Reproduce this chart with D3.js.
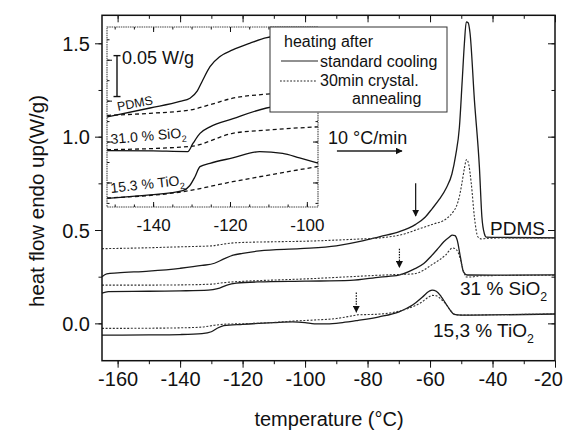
<!DOCTYPE html>
<html>
<head>
<meta charset="utf-8">
<script src="https://cdn.jsdelivr.net/npm/d3@7"></script>
<style>
  body { margin: 0; background: #fff; }
  svg text { font-family: "Liberation Sans", Arial, sans-serif; fill: #111; }
  .axis path, .axis line { stroke: #111; }
  .axis text { font-size: 20px; }
</style>
</head>
<body>
<svg id="chart" width="570" height="430"></svg>
<script>
// main plot curves: [temperature (°C), heat flow (W/g)]
var pdmsStd = [[-165,0.25],[-163.5,0.265],[-160,0.27],[-150,0.28],[-140,0.295],[-133,0.31],[-129,0.322],[-126,0.345],[-123,0.365],[-120,0.375],[-114.6,0.388],[-101.6,0.40],[-90,0.415],[-82,0.44],[-76,0.465],[-70,0.49],[-64.6,0.53],[-61.5,0.57],[-59.3,0.615],[-57,0.665],[-54.8,0.725],[-53,0.80],[-51.8,0.90],[-50.6,1.05],[-49.7,1.30],[-49,1.50],[-48.4,1.615],[-47.8,1.61],[-47.2,1.555],[-45.8,1.197],[-44.2,0.837],[-43.4,0.57],[-42.6,0.48],[-42,0.462],[-35,0.46],[-20,0.458]];
var pdmsAnn = [[-165,0.40],[-150,0.405],[-140,0.41],[-130,0.415],[-126,0.425],[-122,0.432],[-110,0.437],[-100,0.44],[-85,0.45],[-76,0.458],[-68,0.48],[-64.6,0.50],[-59.3,0.53],[-54.8,0.56],[-52.5,0.60],[-51.6,0.625],[-50.6,0.68],[-49.8,0.75],[-49,0.83],[-48.3,0.878],[-47.6,0.85],[-46.8,0.75],[-45.8,0.57],[-44.7,0.464],[-43.5,0.452],[-42,0.455],[-35,0.458],[-20,0.458]];
var sio2Std = [[-165,0.162],[-163,0.17],[-150,0.172],[-140,0.174],[-131,0.178],[-128,0.186],[-125,0.205],[-122,0.215],[-115,0.222],[-100,0.226],[-85.5,0.23],[-76,0.248],[-70,0.258],[-65.3,0.289],[-62,0.32],[-59.8,0.357],[-57.5,0.40],[-55.6,0.437],[-53.8,0.462],[-52.9,0.473],[-52,0.47],[-51.3,0.446],[-50.3,0.357],[-49.3,0.276],[-48.1,0.259],[-40,0.258],[-20,0.26]];
var sio2Ann = [[-165,0.205],[-150,0.205],[-140,0.206],[-130,0.21],[-126,0.218],[-120,0.225],[-110,0.232],[-100,0.238],[-85.5,0.25],[-76,0.258],[-70,0.262],[-65.3,0.265],[-62,0.285],[-59.8,0.31],[-57,0.34],[-55,0.366],[-52.8,0.404],[-52,0.40],[-51,0.38],[-50.1,0.33],[-49.2,0.275],[-48.3,0.248],[-47,0.248],[-44,0.255],[-20,0.258]];
var tio2Std = [[-165,-0.063],[-150,-0.062],[-140,-0.06],[-133,-0.055],[-130,-0.045],[-128,-0.025],[-126,-0.012],[-120,-0.005],[-110,0.004],[-104,0.008],[-100,0.004],[-97,-0.003],[-93,-0.003],[-88,0.004],[-83,0.016],[-76.3,0.035],[-69.9,0.062],[-65.6,0.098],[-62.5,0.14],[-60.3,0.172],[-59.3,0.178],[-58,0.172],[-56.5,0.145],[-55,0.107],[-53.5,0.07],[-52.3,0.048],[-50,0.044],[-40,0.045],[-20,0.05]];
var tio2Ann = [[-165,-0.027],[-150,-0.026],[-140,-0.024],[-133,-0.02],[-129,-0.01],[-126,-0.005],[-120,-0.002],[-110,0.005],[-104,0.012],[-97,0.018],[-90,0.026],[-85,0.04],[-83,0.046],[-78,0.048],[-72,0.058],[-67,0.08],[-63,0.11],[-60.5,0.14],[-59.3,0.15],[-58,0.148],[-56.5,0.13],[-55,0.105],[-53.5,0.07],[-52.3,0.05],[-50,0.044],[-40,0.046],[-20,0.05]];

// inset (glass transition zoom), W/g with arbitrary offset
var inPdmsStd = [[-152,0.080],[-140.8,0.091],[-133,0.099],[-130.4,0.103],[-128.5,0.112],[-127.1,0.125],[-125.2,0.1415],[-122.6,0.154],[-119.3,0.162],[-114.9,0.170],[-110.4,0.177],[-104.5,0.180],[-97,0.183]];
var inPdmsAnn = [[-152,0.082],[-140.8,0.0845],[-130.4,0.0886],[-125.2,0.095],[-119.3,0.103],[-110.4,0.108],[-97,0.113]];
var inSio2Std = [[-152,0.039],[-140,0.0385],[-131,0.0378],[-129.6,0.048],[-127.8,0.060],[-125.2,0.068],[-119.2,0.078],[-110.5,0.091],[-97,0.098]];
var inSio2Ann = [[-152,0.040],[-130.4,0.044],[-119.3,0.060],[-110.4,0.064],[-97,0.068]];
var inTio2Std = [[-152,-0.0194],[-140.8,-0.0153],[-132.3,-0.0101],[-130.5,-0.004],[-129.1,0.007],[-127.8,0.0193],[-125.2,0.0234],[-119.3,0.030],[-112.3,0.0376],[-106.3,0.0356],[-101.9,0.030],[-97.1,0.0235]];
var inTio2Ann = [[-152,-0.019],[-132.3,-0.0113],[-119.3,0.0009],[-97.1,0.0195]];

// onset arrows: temperature, from, to (W/g)
var arrows = [
  { t: -64.6, from: 0.75, to: 0.575, dotted: false },
  { t: -69.8, from: 0.40, to: 0.30, dotted: true },
  { t: -83.6, from: 0.165, to: 0.06, dotted: true }
];

var xTicks = [-160, -140, -120, -100, -80, -60, -40, -20];
var yTicks = [0.0, 0.5, 1.0, 1.5];
var inXTicks = [-140, -120, -100];

var svg = d3.select('#chart');

var x = d3.scaleLinear().domain([-165, -20]).range([102, 555]);
var y = d3.scaleLinear().domain([-0.2, 1.65]).range([360.7, 15.3]);

// plain hyphen for negatives, like the original
var intFmt = function(d) { return String(d); };

function minor(scale, step) {
  var d = scale.domain(), out = [];
  for (var v = Math.ceil(d3.min(d) / step) * step; v <= d3.max(d) + 1e-9; v += step) out.push(+v.toFixed(4));
  return out;
}

// minor ticks first, then major
function axisMinor(gen, scale, step, size, tr) {
  svg.append('g').attr('class', 'axis').attr('transform', tr)
    .call(gen(scale).tickValues(minor(scale, step)).tickSize(size / 2).tickFormat(''))
    .call(function(g) { g.select('.domain').remove(); });
}

axisMinor(d3.axisBottom, x, 10, 7, 'translate(0,360.7)');
axisMinor(d3.axisTop, x, 10, -7, 'translate(0,15.3)');
axisMinor(d3.axisLeft, y, 0.25, 7, 'translate(102,0)');
axisMinor(d3.axisRight, y, 0.25, -7, 'translate(555,0)');

svg.append('g').attr('class', 'axis').attr('transform', 'translate(0,360.7)')
  .call(d3.axisBottom(x).tickValues(xTicks).tickSize(7).tickPadding(4).tickFormat(intFmt))
  .call(function(g) {
    g.select('.domain').remove();
    g.selectAll('text').filter(function(d) { return d === -20; }).attr('dx', -7);
  });
svg.append('g').attr('class', 'axis').attr('transform', 'translate(0,15.3)')
  .call(d3.axisTop(x).tickValues(xTicks).tickSize(-7).tickFormat(''))
  .call(function(g) { g.select('.domain').remove(); });
svg.append('g').attr('class', 'axis').attr('transform', 'translate(102,0)')
  .call(d3.axisLeft(y).tickValues(yTicks).tickSize(7).tickPadding(5).tickFormat(d3.format('.1f')))
  .call(function(g) { g.select('.domain').remove(); g.selectAll('text').attr('dy', '0.36em'); });
svg.append('g').attr('class', 'axis').attr('transform', 'translate(555,0)')
  .call(d3.axisRight(y).tickValues(yTicks).tickSize(-7).tickFormat(''))
  .call(function(g) { g.select('.domain').remove(); });

svg.selectAll('.axis text').style('font-family', '"Liberation Sans", Arial, sans-serif').attr('fill', '#111');

var line = d3.line().x(function(d) { return x(d[0]); }).y(function(d) { return y(d[1]); }).curve(d3.curveMonotoneX);

[[pdmsStd, false], [pdmsAnn, true], [sio2Std, false], [sio2Ann, true], [tio2Std, false], [tio2Ann, true]].forEach(function(s) {
  svg.append('path').datum(s[0]).attr('d', line)
    .attr('fill', 'none')
    .attr('stroke', s[1] ? '#333' : '#1a1a1a')
    .attr('stroke-width', s[1] ? 1.1 : 1.3)
    .attr('stroke-dasharray', s[1] ? '2,1.6' : null);
});

// arrowheads
var defs = svg.append('defs');
defs.append('marker').attr('id', 'head').attr('viewBox', '0 0 10 10')
  .attr('refX', 9).attr('refY', 5).attr('markerWidth', 7).attr('markerHeight', 7)
  .attr('markerUnits', 'userSpaceOnUse').attr('orient', 'auto')
  .append('path').attr('d', 'M0,0 L10,5 L0,10 z').attr('fill', '#111');

arrows.forEach(function(a) {
  svg.append('line')
    .attr('x1', x(a.t)).attr('x2', x(a.t))
    .attr('y1', y(a.from)).attr('y2', y(a.to))
    .attr('stroke', '#111').attr('stroke-width', 1.2)
    .attr('stroke-dasharray', a.dotted ? '1.5,1.2' : null)
    .attr('marker-end', 'url(#head)');
});

// frame
svg.append('rect').attr('x', 102).attr('y', 15.3).attr('width', 453).attr('height', 345.4)
  .attr('fill', 'none').attr('stroke', '#111').attr('stroke-width', 1.5);

// sample labels
function subLabel(g, px, py, size, main, sub, rot) {
  var t = g.append('text').attr('x', px).attr('y', py).style('font-size', size + 'px');
  if (rot) t.attr('transform', 'rotate(' + rot + ',' + px + ',' + py + ')');
  t.append('tspan').text(main);
  if (sub) t.append('tspan').attr('dy', size * 0.3).style('font-size', (size * 0.65) + 'px').text(sub);
  return t;
}
subLabel(svg, 490, 235, 19, 'PDMS');
subLabel(svg, 460, 295, 19, '31 % SiO', '2');
subLabel(svg, 433, 337, 19, '15,3 % TiO', '2');

// heating rate
svg.append('text').attr('x', 328).attr('y', 144).style('font-size', '18px').text('10 °C/min');
svg.append('line').attr('x1', x(-89.8)).attr('x2', x(-69)).attr('y1', y(0.923)).attr('y2', y(0.923))
  .attr('stroke', '#222').attr('stroke-width', 1.6).attr('marker-end', 'url(#head)');

// axis titles
svg.append('text').attr('x', 329).attr('y', 426).attr('text-anchor', 'middle').style('font-size', '20px')
  .text('temperature (°C)');
svg.append('text').attr('transform', 'translate(44,201) rotate(-90)').attr('text-anchor', 'middle')
  .style('font-size', '20.5px').text('heat flow endo up(W/g)');

// ---- inset
var ix = d3.scaleLinear().domain([-152, -97.1]).range([107, 318]);
var iy = d3.scaleLinear().domain([-0.03, 0.19]).range([207, 27]);
var inset = svg.append('g');
inset.append('rect').attr('x', 107).attr('y', 27).attr('width', 211).attr('height', 180).attr('fill', '#fff');

defs.append('clipPath').attr('id', 'inclip').append('rect')
  .attr('x', 107).attr('y', 27).attr('width', 211).attr('height', 180);

var iline = d3.line().x(function(d) { return ix(d[0]); }).y(function(d) { return iy(d[1]); }).curve(d3.curveMonotoneX);
var ic = inset.append('g').attr('clip-path', 'url(#inclip)');
[[inPdmsStd, false], [inPdmsAnn, true], [inSio2Std, false], [inSio2Ann, true], [inTio2Std, false], [inTio2Ann, true]].forEach(function(s) {
  ic.append('path').datum(s[0]).attr('d', iline)
    .attr('fill', 'none').attr('stroke', '#111')
    .attr('stroke-width', 1.3)
    .attr('stroke-dasharray', s[1] ? '4,3' : null);
});

function inAxis(gen, scale, vals, size, tr, fmt) {
  inset.append('g').attr('class', 'axis').attr('transform', tr)
    .call(gen(scale).tickValues(vals).tickSize(size).tickPadding(6).tickFormat(fmt || ''))
    .call(function(g) { g.select('.domain').remove(); g.selectAll('line').attr('stroke', '#444'); });
}
inAxis(d3.axisBottom, ix, minor(ix, 5), -2.5, 'translate(0,207)');
inAxis(d3.axisBottom, ix, inXTicks, -5, 'translate(0,207)', intFmt);
inAxis(d3.axisTop, ix, minor(ix, 5), -2.5, 'translate(0,27)');
inAxis(d3.axisTop, ix, inXTicks, -5, 'translate(0,27)');
inAxis(d3.axisLeft, iy, minor(iy, 0.025), -2.5, 'translate(107,0)');
inAxis(d3.axisLeft, iy, [0, 0.05, 0.1, 0.15], -5, 'translate(107,0)');
inAxis(d3.axisRight, iy, minor(iy, 0.025), -2.5, 'translate(318,0)');
inAxis(d3.axisRight, iy, [0, 0.05, 0.1, 0.15], -5, 'translate(318,0)');
inset.selectAll('.axis text').style('font-size', '17px').attr('dy', '1.05em')
  .style('font-family', '"Liberation Sans", Arial, sans-serif').attr('fill', '#111');

inset.append('rect').attr('x', 107).attr('y', 27).attr('width', 211).attr('height', 180)
  .attr('fill', 'none').attr('stroke', '#444').attr('stroke-width', 1.1).attr('stroke-dasharray', '1.5,0.8');

// scale bar 0.05 W/g
var sb = inset.append('g').attr('stroke', '#111').attr('stroke-width', 1.4);
sb.append('line').attr('x1', 117).attr('x2', 117).attr('y1', iy(0.155)).attr('y2', iy(0.105));
sb.append('line').attr('x1', 113.5).attr('x2', 120.5).attr('y1', iy(0.155)).attr('y2', iy(0.155));
sb.append('line').attr('x1', 113.5).attr('x2', 120.5).attr('y1', iy(0.105)).attr('y2', iy(0.105));
inset.append('text').attr('x', 122).attr('y', 64).style('font-size', '18px').text('0.05 W/g');

subLabel(inset, 118, 111, 12.5, 'PDMS', null, -11);
subLabel(inset, 111, 144, 14, '31.0 % SiO', '2', -5);
subLabel(inset, 111, 193, 14, '15.3 % TiO', '2', -6.5);

// ---- legend
var lg = svg.append('g');
lg.append('rect').attr('x', 270).attr('y', 27).attr('width', 177).attr('height', 85)
  .attr('fill', '#fff').attr('stroke', '#333').attr('stroke-width', 1);
lg.append('text').attr('x', 284).attr('y', 47).style('font-size', '16px').text('heating after');
lg.append('line').attr('x1', 281).attr('x2', 318).attr('y1', 61).attr('y2', 61)
  .attr('stroke', '#222').attr('stroke-width', 1.1);
lg.append('text').attr('x', 320).attr('y', 66.5).style('font-size', '16px').text('standard cooling');
lg.append('line').attr('x1', 280).attr('x2', 317).attr('y1', 81).attr('y2', 81)
  .attr('stroke', '#222').attr('stroke-width', 1.1).attr('stroke-dasharray', '1.8,1.6');
lg.append('text').attr('x', 320).attr('y', 85.5).style('font-size', '16px').text('30min crystal.');
lg.append('text').attr('x', 352).attr('y', 103.5).style('font-size', '16px').text('annealing');
</script>
</body>
</html>
